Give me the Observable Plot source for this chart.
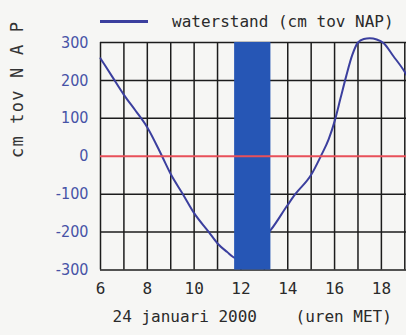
<!DOCTYPE html>
<html>
<head>
<meta charset="utf-8">
<script src="https://cdn.jsdelivr.net/npm/d3@7"></script>
<script src="https://cdn.jsdelivr.net/npm/@observablehq/plot@0.6"></script>
<style>
  html, body { margin: 0; padding: 0; background: #f6f6f4; overflow: hidden; width: 406px; height: 335px; }
  #legend { position: relative; height: 36px; width: 406px; }
  #legend .swatch { position: absolute; left: 100px; top: 19.5px; width: 48px; height: 3px; background: #3b3f9e; }
  #legend .label { position: absolute; left: 172px; top: 13.5px; font: 16px/16px "DejaVu Sans Mono", monospace; color: #2a2a2a; white-space: pre; }
</style>
</head>
<body>
<div id="legend"><div class="swatch"></div><span class="label">waterstand (cm tov NAP)</span></div>
<div id="chart"></div>
<script>
// Tide level (cm tov NAP) by hour, 24 januari 2000
const hoursBefore = [6.0, 6.5, 7.0, 7.5, 8.0, 8.63, 9.0, 9.52, 10.0, 10.63, 11.0, 11.4, 11.77];
const levelBefore = [258, 210, 162, 120, 76, 0, -47, -100, -150, -200, -230, -252, -268];
const hoursAfter = [13.29, 14.0, 14.32, 15.0, 15.41, 15.75, 16.0, 16.25, 16.5, 16.75, 17.0, 17.25, 17.5, 17.8, 18.1, 18.5, 19.0, 19.2];
const levelAfter = [-193, -128, -100, -49, 0, 45, 92, 152, 212, 266, 300, 309, 311, 308, 298, 265, 222, 200];
const bandStart = [11.73];
const bandEnd = [13.28];
const xTicks = [6, 8, 10, 12, 14, 16, 18];
const yTicks = [300, 200, 100, 0, -100, -200, -300];
const gridHours = [6, 7, 8, 9, 10, 11, 12, 13, 14, 15, 16, 17, 18, 19];
const gridLevels = [300, 200, 100, -100, -200, -300];
const xLabel = "24 januari 2000\u00a0\u00a0\u00a0\u00a0(uren MET)";
const yLabel = "cm tov N A P";

const points = hoursBefore.map((h, i) => ({h, v: levelBefore[i]}))
  .concat(hoursAfter.map((h, i) => ({h, v: levelAfter[i]})));
const band = bandStart.map((s, i) => ({x1: s, x2: bandEnd[i]}));

const mono = "'DejaVu Sans Mono', monospace";
const cond = "'DejaVu Sans Condensed', 'DejaVu Sans', sans-serif";

const chart = Plot.plot({
  width: 420,
  height: 299,
  marginLeft: 100,
  marginRight: 4,
  marginTop: 6,
  marginBottom: 65.5,
  style: {background: "transparent", maxWidth: "none", overflow: "visible"},
  x: {domain: [6, 19.5]},
  y: {domain: [-300, 300]},
  marks: [
    Plot.ruleX(gridHours, {stroke: "#1c1c1c", strokeWidth: 1.5}),
    Plot.ruleY(gridLevels, {stroke: "#1c1c1c", strokeWidth: 1.5}),
    Plot.line(points, {x: "h", y: "v", curve: "monotone-x", stroke: "#3b3f9e", strokeWidth: 2}),
    Plot.rect(band, {x1: "x1", x2: "x2", y1: -300, y2: 300, fill: "#2656b5"}),
    Plot.ruleY([0], {stroke: "#e8505a", strokeWidth: 2}),
    Plot.axisY({ticks: yTicks, tickSize: 0, tickPadding: 12, tickFormat: d => String(d),
      fontSize: 16, fontFamily: cond, fill: "#4652a6", label: null}),
    Plot.axisX({ticks: xTicks, tickSize: 0, tickPadding: 13, tickFormat: d => String(d),
      fontSize: 16, fontFamily: mono, fill: "#2a2a2a", label: null}),
    Plot.text([xLabel], {frameAnchor: "bottom-left", text: d => d, textAnchor: "start",
      dx: 12, dy: 51.5, fontSize: 16, fontFamily: mono, fill: "#2a2a2a"}),
    Plot.text([yLabel], {frameAnchor: "left", text: d => d, rotate: -90,
      dx: -83, dy: 1.75, fontSize: 17, fontFamily: mono, fill: "#333333"})
  ]
});
document.getElementById("chart").appendChild(chart);
d3.select(chart).selectAll("text").filter(function() { return this.textContent === yLabel; })
  .style("letter-spacing", "1.2px");
</script>
</body>
</html>
